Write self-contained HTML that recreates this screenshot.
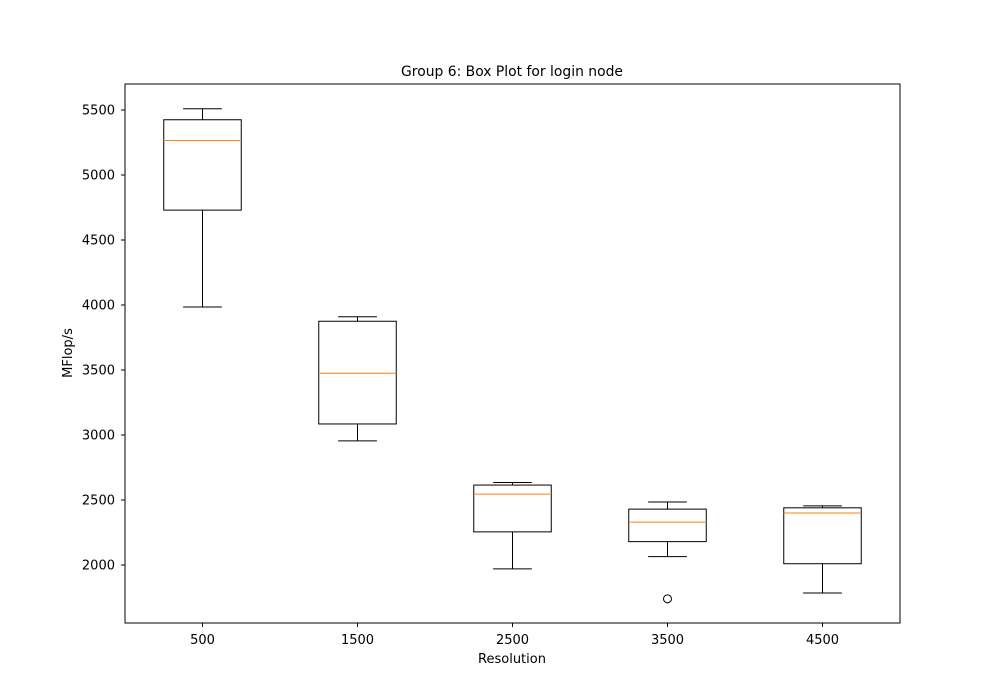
<!DOCTYPE html>
<html><head><meta charset="utf-8"><style>
body{margin:0;background:#fff;}
svg{display:block;font-family:"DejaVu Sans","Liberation Sans",sans-serif;}
</style></head><body>
<svg id="chart" width="1000" height="700">
<rect x="0" y="0" width="1000" height="700" fill="#fff"/>
<text x="512" y="76" font-size="13.9" text-anchor="middle">Group 6: Box Plot for login node</text>
<g id="plot"></g>
<rect x="125" y="84" width="775" height="539" fill="none" stroke="#000" stroke-width="1"/>
<text x="512" y="663" font-size="13" text-anchor="middle">Resolution</text>
<text transform="translate(72,353) rotate(-90)" font-size="13" text-anchor="middle">MFlop/s</text>
</svg>
<script>
const categories=["500","1500","2500","3500","4500"];
const whislo=[3985,2955,1970,2065,1785];
const q1=[4730,3085,2255,2180,2010];
const med=[5265,3475,2545,2330,2400];
const q3=[5425,3875,2615,2430,2440];
const whishi=[5510,3910,2635,2485,2455];
const outliers=[[],[],[],[1740],[]];
const yTicks=[2000,2500,3000,3500,4000,4500,5000,5500];
const ns="http://www.w3.org/2000/svg";
const g=document.getElementById('plot');
const X0=125,W=775,Y0=84,H=539,ymin=1554,ymax=5700;
const xs=i=>X0+(i+0.5)/categories.length*W;
const ys=v=>Y0+H-(v-ymin)/(ymax-ymin)*H;
function mk(t,a){const e=document.createElementNS(ns,t);for(const k in a)e.setAttribute(k,a[k]);g.appendChild(e);return e;}
yTicks.forEach(v=>{
 const y=ys(v);
 const t=mk('line',{x1:X0-4,x2:X0,y1:y,y2:y,stroke:'#000'});
 
 
 const l=mk('text',{x:X0-10,y:y+4.5,'font-size':13,'text-anchor':'end'});l.textContent=v;
 
 
});
const bw=W/categories.length*0.5;
categories.forEach((c,i)=>{
 const x=xs(i);
 const t=mk('line',{x1:x,x2:x,y1:Y0+H,y2:Y0+H+4,stroke:'#000'});
 
 
 const l=mk('text',{x:x,y:Y0+H+21,'font-size':13,'text-anchor':'middle'});l.textContent=c;
 
 
 const s={stroke:'#000','stroke-width':1,fill:'none'};
 const w1=mk('line',{x1:x,x2:x,y1:ys(whislo[i]),y2:ys(q1[i]),...s});
 
 
 const w2=mk('line',{x1:x,x2:x,y1:ys(q3[i]),y2:ys(whishi[i]),...s});
 
 
 const c1=mk('line',{x1:x-bw/4,x2:x+bw/4,y1:ys(whislo[i]),y2:ys(whislo[i]),...s});
 
 
 const c2=mk('line',{x1:x-bw/4,x2:x+bw/4,y1:ys(whishi[i]),y2:ys(whishi[i]),...s});
 
 
 const b=mk('rect',{x:x-bw/2,y:ys(q3[i]),width:bw,height:ys(q1[i])-ys(q3[i]),...s});
 
 
 const m=mk('line',{x1:x-bw/2,x2:x+bw/2,y1:ys(med[i]),y2:ys(med[i]),stroke:'#ff7f0e','stroke-width':1});
 
 
 outliers[i].forEach(v=>{
  const o=mk('circle',{cx:x,cy:ys(v),r:4,fill:'none',stroke:'#000'});
  
  
 });
});
</script>
</body></html>
